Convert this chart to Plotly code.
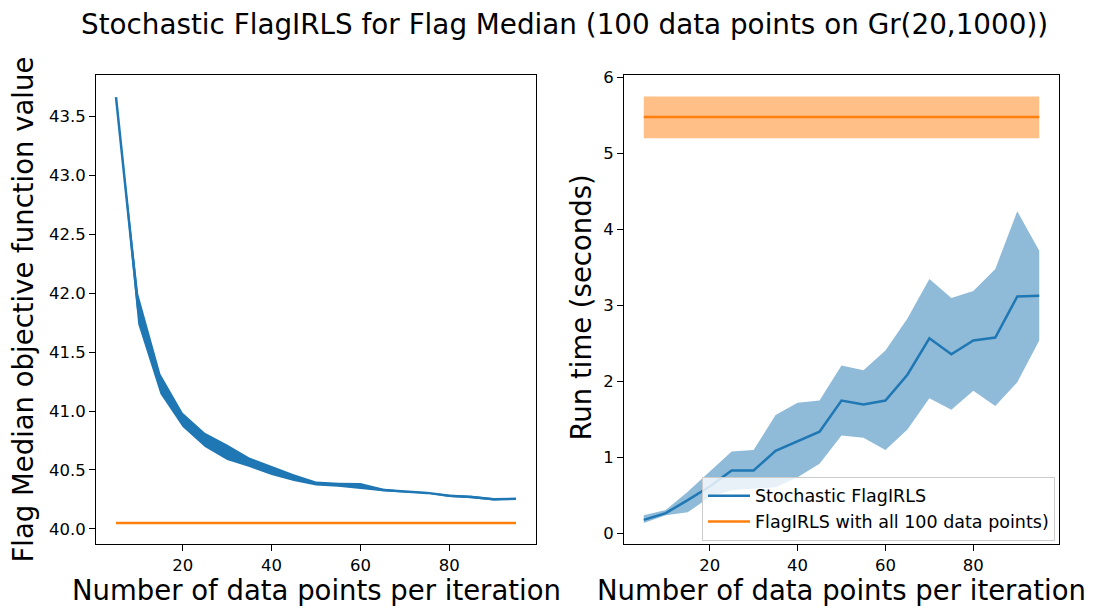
import plotly.graph_objects as go

# ---- data ----
batch_sizes = [5, 10, 15, 20, 25, 30, 35, 40, 45, 50, 55, 60, 65, 70, 75, 80, 85, 90, 95]

obj_mean = [43.665, 41.865, 41.23, 40.925, 40.755, 40.65, 40.565, 40.495, 40.435, 40.385,
            40.375, 40.365, 40.33, 40.315, 40.305, 40.28, 40.27, 40.25, 40.255]
obj_std = [0.003, 0.128, 0.085, 0.06, 0.06, 0.065, 0.04, 0.038, 0.028, 0.017,
           0.017, 0.025, 0.012, 0.006, 0.006, 0.01, 0.01, 0.01, 0.006]
obj_full = 40.05

rt_mean = [0.18, 0.27, 0.44, 0.62, 0.83, 0.83, 1.09, 1.22, 1.34, 1.75,
           1.70, 1.75, 2.09, 2.57, 2.36, 2.54, 2.58, 3.12, 3.13]
rt_upper = [0.24, 0.31, 0.55, 0.81, 1.08, 1.10, 1.56, 1.72, 1.75, 2.21,
            2.15, 2.41, 2.83, 3.35, 3.10, 3.19, 3.48, 4.24, 3.72]
rt_lower = [0.14, 0.24, 0.28, 0.48, 0.57, 0.59, 0.61, 0.74, 0.92, 1.29,
            1.26, 1.10, 1.37, 1.78, 1.63, 1.88, 1.68, 1.99, 2.54]
rt_full_mean = 5.48
rt_full_upper = 5.75
rt_full_lower = 5.20

BLUE = "#1f77b4"
ORANGE = "#ff7f0e"
FONT = "DejaVu Sans"
W, H = 1094, 608

fig = go.Figure()

# ---- left panel ----
obj_up = [m + s for m, s in zip(obj_mean, obj_std)]
obj_lo = [m - s for m, s in zip(obj_mean, obj_std)]
fig.add_trace(go.Scatter(x=batch_sizes, y=obj_up, mode="lines", line=dict(width=0),
                         showlegend=False, hoverinfo="skip", xaxis="x", yaxis="y"))
fig.add_trace(go.Scatter(x=batch_sizes, y=obj_lo, mode="lines", line=dict(width=0),
                         fill="tonexty", fillcolor=BLUE, showlegend=False,
                         hoverinfo="skip", xaxis="x", yaxis="y"))
fig.add_trace(go.Scatter(x=batch_sizes, y=obj_mean, mode="lines",
                         line=dict(color=BLUE, width=2.5), showlegend=False,
                         xaxis="x", yaxis="y"))
fig.add_trace(go.Scatter(x=[batch_sizes[0], batch_sizes[-1]], y=[obj_full, obj_full],
                         mode="lines", line=dict(color=ORANGE, width=2.5),
                         showlegend=False, xaxis="x", yaxis="y"))

# ---- right panel ----
fig.add_trace(go.Scatter(x=batch_sizes, y=rt_upper, mode="lines", line=dict(width=0),
                         showlegend=False, hoverinfo="skip", xaxis="x2", yaxis="y2"))
fig.add_trace(go.Scatter(x=batch_sizes, y=rt_lower, mode="lines", line=dict(width=0),
                         fill="tonexty", fillcolor="rgba(31,119,180,0.5)",
                         showlegend=False, hoverinfo="skip", xaxis="x2", yaxis="y2"))
fig.add_trace(go.Scatter(x=[batch_sizes[0], batch_sizes[-1]], y=[rt_full_upper, rt_full_upper],
                         mode="lines", line=dict(width=0), showlegend=False,
                         hoverinfo="skip", xaxis="x2", yaxis="y2"))
fig.add_trace(go.Scatter(x=[batch_sizes[0], batch_sizes[-1]], y=[rt_full_lower, rt_full_lower],
                         mode="lines", line=dict(width=0), fill="tonexty",
                         fillcolor="rgba(255,127,14,0.5)", showlegend=False,
                         hoverinfo="skip", xaxis="x2", yaxis="y2"))
fig.add_trace(go.Scatter(x=batch_sizes, y=rt_mean, mode="lines",
                         line=dict(color=BLUE, width=2.5), name="Stochastic FlagIRLS",
                         xaxis="x2", yaxis="y2"))
fig.add_trace(go.Scatter(x=[batch_sizes[0], batch_sizes[-1]], y=[rt_full_mean, rt_full_mean],
                         mode="lines", line=dict(color=ORANGE, width=2.5),
                         name="FlagIRLS with all 100 data points)", xaxis="x2", yaxis="y2"))

def px_x(p):
    return p / W

def px_y(p):
    return (H - p) / H

axis_common = dict(showline=True, linecolor="black", linewidth=1, mirror=True,
                   ticks="outside", ticklen=6, tickwidth=1, tickcolor="black",
                   showgrid=False, zeroline=False,
                   tickfont=dict(family=FONT, size=16.5, color="black"))

fig.update_layout(
    width=W, height=H,
    margin=dict(l=0, r=0, t=0, b=0),
    paper_bgcolor="white", plot_bgcolor="white",
    font=dict(family=FONT, color="black"),
    xaxis=dict(domain=[px_x(96), px_x(536)], range=[0.5, 99.5],
               tickvals=[20, 40, 60, 80], anchor="y", **axis_common),
    yaxis=dict(domain=[px_y(543.5), px_y(69)], range=[39.869, 43.851],
               tickvals=[40.0, 40.5, 41.0, 41.5, 42.0, 42.5, 43.0, 43.5],
               tickformat=".1f", anchor="x", **axis_common),
    xaxis2=dict(domain=[px_x(624), px_x(1059)], range=[0.5, 99.5],
                tickvals=[20, 40, 60, 80], anchor="y2", **axis_common),
    yaxis2=dict(domain=[px_y(543.5), px_y(69)], range=[-0.14, 6.03],
                tickvals=[0, 1, 2, 3, 4, 5, 6], anchor="x2", **axis_common),
    legend=dict(x=px_x(1055), y=px_y(540), xanchor="right", yanchor="bottom",
                traceorder="normal", itemwidth=42,
                bgcolor="rgba(255,255,255,0.8)", bordercolor="#cccccc", borderwidth=1,
                font=dict(family=FONT, size=17.5, color="black")),
    showlegend=True,
)

annotations = [
    dict(text="Stochastic FlagIRLS for Flag Median (100 data points on Gr(20,1000))",
         x=px_x(564), y=px_y(18), font=dict(size=27.8)),
    dict(text="Number of data points per iteration", x=px_x(316), y=px_y(590),
         font=dict(size=27.5)),
    dict(text="Number of data points per iteration", x=px_x(841.5), y=px_y(590),
         font=dict(size=27.5)),
    dict(text="Flag Median objective function value", x=px_x(23), y=px_y(306),
         font=dict(size=27.5), textangle=-90),
    dict(text="Run time (seconds)", x=px_x(580), y=px_y(304), font=dict(size=27.5),
         textangle=-90),
]
for a in annotations:
    a.update(xref="paper", yref="paper", showarrow=False, xanchor="center",
             yanchor="middle")
    a["font"].update(family=FONT, color="black")
fig.update_layout(annotations=annotations)

fig.write_html("out.html")
